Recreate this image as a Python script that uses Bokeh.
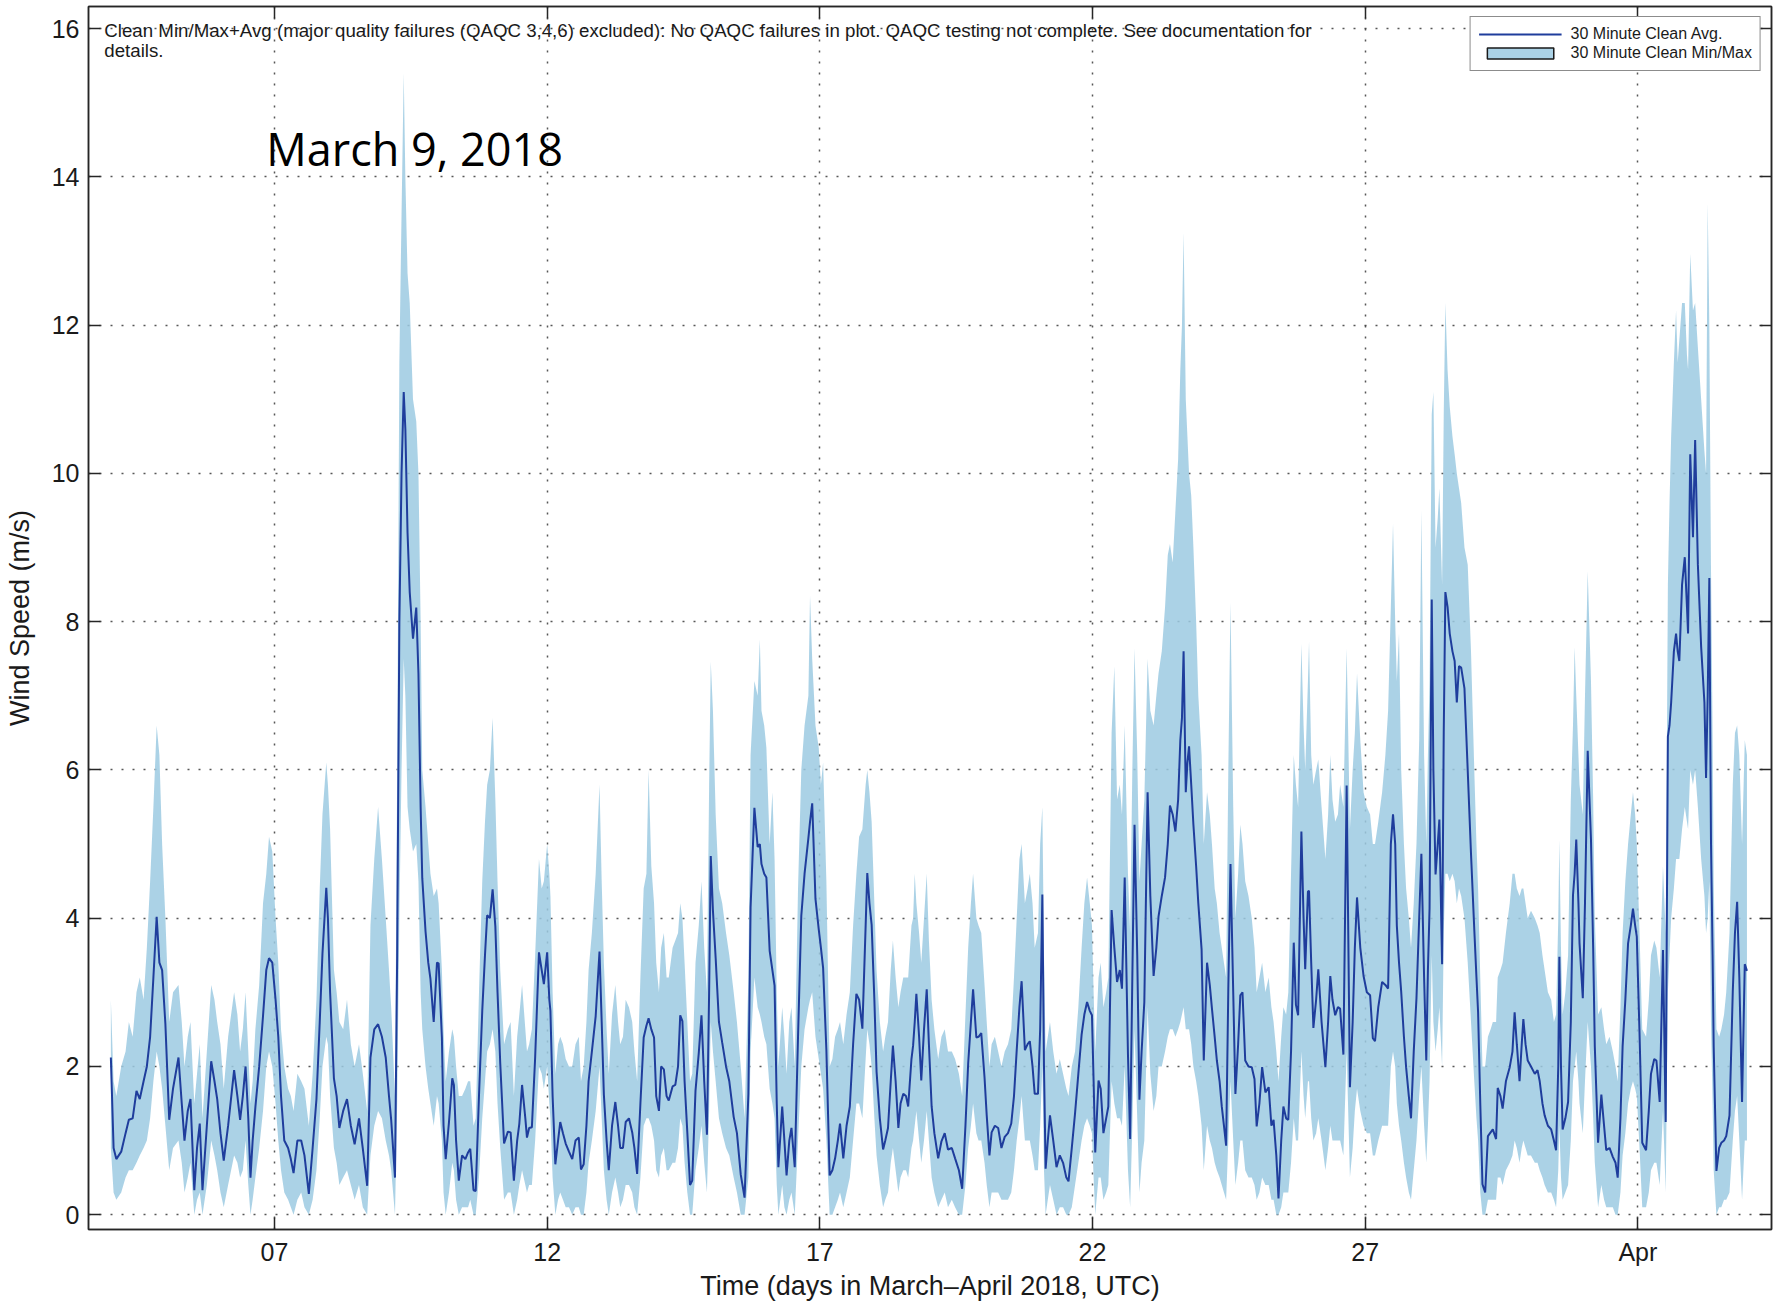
import sys
from bokeh.plotting import figure
from bokeh.models import (ColumnDataSource, Range1d, LinearAxis, FixedTicker,
                          Grid, Legend, LegendItem, Label)
from bokeh.embed import file_html
from bokeh.resources import INLINE

# ---------------- data (time in days of March 2018, UTC; Apr 1 = 32) ----------------
wind_day = [
    4.00, 4.05, 4.10, 4.19, 4.27, 4.33, 4.40, 4.47, 4.53, 4.60,
    4.66, 4.72, 4.78, 4.84, 4.89, 4.94, 5.00, 5.07, 5.14, 5.24,
    5.30, 5.35, 5.41, 5.46, 5.53, 5.58, 5.63, 5.68, 5.76, 5.84,
    5.90, 5.95, 6.01, 6.07, 6.15, 6.26, 6.32, 6.37, 6.42, 6.47,
    6.52, 6.56, 6.60, 6.65, 6.72, 6.79, 6.85, 6.90, 6.96, 7.02,
    7.07, 7.12, 7.18, 7.25, 7.30, 7.35, 7.42, 7.49, 7.55, 7.63,
    7.70, 7.77, 7.83, 7.88, 7.95, 7.98, 8.02, 8.09, 8.14, 8.19,
    8.26, 8.33, 8.40, 8.47, 8.55, 8.62, 8.70, 8.76, 8.83, 8.90,
    8.97, 9.04, 9.10, 9.14, 9.21, 9.25, 9.29, 9.33, 9.37, 9.40,
    9.44, 9.48, 9.54, 9.60, 9.64, 9.68, 9.71, 9.77, 9.82, 9.86,
    9.92, 9.98, 10.01, 10.07, 10.10, 10.14, 10.20, 10.26, 10.29, 10.33,
    10.38, 10.44, 10.50, 10.55, 10.59, 10.65, 10.69, 10.75, 10.81, 10.86,
    10.90, 10.95, 11.00, 11.05, 11.09, 11.14, 11.21, 11.28, 11.33, 11.39,
    11.45, 11.49, 11.54, 11.60, 11.63, 11.67, 11.72, 11.78, 11.85, 11.90,
    11.94, 12.00, 12.04, 12.06, 12.10, 12.15, 12.20, 12.24, 12.29, 12.34,
    12.40, 12.46, 12.52, 12.58, 12.62, 12.67, 12.72, 12.76, 12.82, 12.89,
    12.96, 13.00, 13.04, 13.09, 13.13, 13.19, 13.25, 13.30, 13.34, 13.39,
    13.44, 13.50, 13.56, 13.60, 13.65, 13.71, 13.77, 13.82, 13.86, 13.91,
    13.96, 14.00, 14.05, 14.09, 14.14, 14.19, 14.23, 14.30, 14.35, 14.40,
    14.44, 14.48, 14.52, 14.57, 14.62, 14.66, 14.72, 14.78, 14.83, 14.88,
    14.93, 14.97, 15.00, 15.04, 15.09, 15.15, 15.21, 15.28, 15.34, 15.42,
    15.48, 15.55, 15.62, 15.69, 15.73, 15.80, 15.86, 15.90, 15.93, 15.98,
    16.02, 16.08, 16.13, 16.17, 16.21, 16.24, 16.31, 16.35, 16.39, 16.44,
    16.48, 16.54, 16.60, 16.66, 16.72, 16.79, 16.82, 16.86, 16.92, 16.98,
    17.02, 17.06, 17.12, 17.18, 17.23, 17.28, 17.33, 17.37, 17.43, 17.49,
    17.55, 17.61, 17.67, 17.72, 17.78, 17.84, 17.87, 17.91, 17.95, 18.00,
    18.04, 18.10, 18.16, 18.20, 18.25, 18.30, 18.34, 18.39, 18.44, 18.48,
    18.53, 18.58, 18.62, 18.68, 18.71, 18.74, 18.77, 18.82, 18.86, 18.91,
    18.96, 19.00, 19.05, 19.10, 19.17, 19.23, 19.29, 19.35, 19.42, 19.48,
    19.55, 19.61, 19.67, 19.72, 19.77, 19.81, 19.87, 19.91, 19.96, 20.02,
    20.06, 20.11, 20.15, 20.21, 20.27, 20.33, 20.39, 20.45, 20.51, 20.56,
    20.61, 20.66, 20.70, 20.76, 20.81, 20.85, 20.90, 20.94, 21.00, 21.04,
    21.08, 21.11, 21.14, 21.18, 21.22, 21.28, 21.34, 21.40, 21.46, 21.52,
    21.56, 21.62, 21.68, 21.74, 21.80, 21.85, 21.90, 21.95, 21.99, 22.02,
    22.05, 22.11, 22.15, 22.20, 22.25, 22.29, 22.35, 22.40, 22.45, 22.50,
    22.54, 22.59, 22.65, 22.69, 22.73, 22.77, 22.82, 22.86, 22.90, 22.95,
    23.01, 23.06, 23.12, 23.17, 23.21, 23.27, 23.33, 23.38, 23.42, 23.47,
    23.52, 23.57, 23.61, 23.64, 23.67, 23.71, 23.74, 23.77, 23.81, 23.85,
    23.90, 23.94, 24.00, 24.04, 24.10, 24.15, 24.19, 24.24, 24.28, 24.33,
    24.37, 24.41, 24.45, 24.49, 24.53, 24.58, 24.62, 24.67, 24.71, 24.75,
    24.80, 24.86, 24.92, 24.97, 25.01, 25.06, 25.11, 25.17, 25.23, 25.28,
    25.32, 25.37, 25.41, 25.46, 25.50, 25.55, 25.59, 25.64, 25.69, 25.73,
    25.77, 25.83, 25.87, 25.90, 25.95, 25.97, 26.01, 26.05, 26.10, 26.14,
    26.20, 26.27, 26.32, 26.36, 26.40, 26.45, 26.50, 26.54, 26.60, 26.66,
    26.72, 26.77, 26.81, 26.85, 26.91, 26.97, 27.03, 27.09, 27.14, 27.18,
    27.24, 27.31, 27.37, 27.42, 27.47, 27.51, 27.55, 27.58, 27.62, 27.66,
    27.71, 27.75, 27.80, 27.84, 27.89, 27.94, 27.99, 28.03, 28.08, 28.12,
    28.15, 28.18, 28.22, 28.25, 28.29, 28.33, 28.36, 28.41, 28.44, 28.47,
    28.51, 28.55, 28.60, 28.64, 28.68, 28.72, 28.76, 28.82, 28.88, 28.94,
    29.00, 29.04, 29.07, 29.11, 29.15, 29.20, 29.25, 29.30, 29.34, 29.40,
    29.43, 29.48, 29.52, 29.58, 29.65, 29.70, 29.74, 29.78, 29.83, 29.87,
    29.90, 29.94, 29.98, 30.04, 30.11, 30.16, 30.20, 30.25, 30.29, 30.35,
    30.41, 30.46, 30.50, 30.54, 30.56, 30.59, 30.62, 30.67, 30.72, 30.77,
    30.81, 30.84, 30.87, 30.91, 30.93, 30.99, 31.03, 31.08, 31.14, 31.18,
    31.21, 31.27, 31.33, 31.38, 31.42, 31.48, 31.54, 31.59, 31.63, 31.68,
    31.72, 31.77, 31.82, 31.87, 31.91, 31.95, 31.98, 32.03, 32.08, 32.15,
    32.20, 32.24, 32.30, 32.34, 32.40, 32.46, 32.51, 32.55, 32.58, 32.61,
    32.66, 32.70, 32.73, 32.76, 32.81, 32.86, 32.90, 32.92, 32.96, 33.01,
    33.05, 33.10, 33.16, 33.22, 33.25, 33.28, 33.31, 33.34, 33.37, 33.39,
    33.44, 33.49, 33.53, 33.58, 33.62, 33.68, 33.74, 33.78, 33.82, 33.86,
    33.91, 33.96, 34.00,
]

# 30 minute clean average wind speed (m/s)
wind_avg = [
    2.12, 0.9, 0.75, 0.85, 1.1, 1.28, 1.3, 1.67, 1.56, 1.8,
    2.0, 2.4, 3.2, 4.02, 3.4, 3.3, 2.57, 1.28, 1.7, 2.12,
    1.5, 1.0, 1.4, 1.56, 0.33, 0.9, 1.23, 0.33, 1.2, 2.07,
    1.8, 1.56, 1.1, 0.73, 1.2, 1.95, 1.6, 1.28, 1.6, 2.0,
    1.3, 0.5, 1.0, 1.45, 2.0, 2.68, 3.3, 3.46, 3.4, 2.9,
    2.4, 1.6, 1.0, 0.9, 0.75, 0.56, 1.0, 1.0, 0.8, 0.28,
    0.9, 1.56, 2.6, 3.52, 4.41, 4.0, 3.0, 1.84, 1.6, 1.17,
    1.4, 1.56, 1.2, 0.95, 1.3, 0.89, 0.39, 2.12, 2.5, 2.57,
    2.4, 2.12, 1.6, 1.28, 0.5, 3.5, 7.98, 10.0, 11.1, 10.6,
    9.2, 8.4, 7.77, 8.19, 7.3, 5.5, 4.54, 3.82, 3.4, 3.18,
    2.6, 3.4, 3.39, 2.39, 1.2, 0.75, 1.25, 1.84, 1.75, 1.0,
    0.46, 0.8, 0.75, 0.84, 0.89, 0.33, 0.32, 1.6, 2.75, 3.5,
    4.04, 4.0, 4.39, 3.89, 3.0, 2.04, 0.96, 1.12, 1.11, 0.46,
    1.0, 1.23, 1.75, 1.3, 1.04, 1.17, 1.18, 2.12, 3.54, 3.3,
    3.11, 3.54, 2.9, 2.75, 1.6, 0.68, 1.0, 1.25, 1.1, 0.96,
    0.85, 0.75, 1.0, 1.04, 0.61, 0.68, 1.2, 1.8, 2.2, 2.68,
    3.55, 2.6, 1.62, 1.0, 0.6, 1.2, 1.52, 1.2, 0.9, 0.9,
    1.25, 1.3, 1.11, 0.9, 0.55, 1.5, 2.39, 2.55, 2.65, 2.5,
    2.39, 1.6, 1.4, 2.0, 1.96, 1.6, 1.54, 1.73, 1.75, 2.0,
    2.69, 2.61, 1.8, 1.11, 0.4, 0.46, 1.67, 2.18, 2.69, 1.8,
    1.08, 3.0, 4.84, 4.1, 3.46, 2.6, 2.32, 2.0, 1.8, 1.32,
    1.1, 0.54, 0.23, 1.63, 4.14, 5.49, 4.96, 5.0, 4.73, 4.6,
    4.55, 3.56, 3.3, 3.09, 1.5, 0.64, 1.46, 1.0, 0.53, 1.0,
    1.17, 0.64, 2.4, 4.03, 4.6, 5.08, 5.3, 5.55, 4.26, 3.85,
    3.6, 3.33, 2.22, 0.53, 0.6, 0.76, 1.0, 1.23, 0.76, 1.2,
    1.46, 2.3, 2.98, 2.9, 2.51, 3.9, 4.61, 4.2, 3.91, 2.9,
    1.93, 1.3, 0.88, 1.0, 1.17, 1.8, 2.28, 1.8, 1.17, 1.5,
    1.63, 1.6, 1.46, 2.1, 2.28, 2.6, 2.98, 2.4, 1.81, 2.5,
    3.04, 2.3, 1.46, 1.1, 0.76, 0.99, 1.1, 0.88, 0.9, 0.76,
    0.6, 0.35, 1.2, 2.04, 2.6, 3.04, 2.39, 2.4, 2.45, 1.85,
    1.34, 0.8, 1.11, 1.2, 1.17, 0.9, 1.05, 1.1, 1.23, 1.6,
    2.22, 2.8, 3.15, 2.22, 2.3, 2.34, 2.0, 1.63, 1.63, 2.5,
    4.32, 2.0, 0.62, 1.0, 1.34, 1.0, 0.64, 0.8, 0.7, 0.5,
    0.45, 0.9, 1.37, 1.9, 2.43, 2.7, 2.87, 2.75, 2.69, 1.8,
    0.84, 1.81, 1.7, 1.1, 1.3, 1.46, 4.11, 3.6, 3.14, 3.3,
    3.05, 4.55, 2.16, 1.02, 3.2, 5.26, 3.5, 1.55, 2.2, 2.87,
    5.7, 4.3, 3.22, 3.6, 4.02, 4.3, 4.55, 5.0, 5.52, 5.4,
    5.17, 5.6, 6.4, 6.7, 7.6, 5.7, 6.1, 6.32, 5.8, 5.26,
    4.7, 4.2, 3.58, 2.08, 3.4, 3.1, 2.78, 2.4, 2.08, 1.8,
    1.46, 1.2, 0.93, 3.05, 4.73, 3.0, 1.63, 2.3, 2.96, 3.0,
    2.08, 2.0, 1.99, 1.83, 1.19, 1.5, 1.99, 1.65, 1.72, 1.2,
    1.28, 0.8, 0.22, 1.0, 1.46, 1.3, 1.28, 2.2, 3.67, 2.83,
    2.69, 5.17, 4.0, 3.31, 4.36, 4.37, 3.4, 2.52, 2.9, 3.31,
    2.6, 1.99, 2.6, 3.22, 2.9, 2.69, 2.8, 2.78, 2.16, 5.79,
    1.72, 2.6, 3.6, 4.28, 3.6, 3.22, 3.0, 2.96, 2.38, 2.34,
    2.8, 3.14, 3.1, 3.05, 5.0, 5.4, 5.0, 3.9, 3.4, 3.01,
    2.4, 1.99, 1.6, 1.3, 2.2, 2.92, 4.0, 4.87, 3.2, 2.08,
    3.3, 4.13, 8.3, 6.0, 4.59, 5.0, 5.33, 3.38, 6.5, 8.4,
    8.2, 7.84, 7.6, 7.47, 6.91, 7.4, 7.38, 7.1, 5.99, 4.87,
    3.85, 3.2, 2.73, 1.5, 0.41, 0.3, 1.06, 1.11, 1.15, 1.02,
    1.71, 1.6, 1.43, 1.8, 1.99, 2.2, 2.73, 2.3, 1.8, 2.3,
    2.64, 2.3, 2.08, 2.0, 1.9, 1.95, 1.8, 1.5, 1.34, 1.2,
    1.15, 1.0, 0.87, 2.0, 3.48, 2.0, 1.15, 1.3, 1.52, 2.6,
    4.31, 4.6, 5.06, 4.2, 3.66, 2.92, 4.2, 6.26, 5.06, 3.6,
    2.27, 0.97, 1.62, 1.2, 0.87, 0.9, 0.78, 0.7, 0.5, 1.3,
    2.27, 2.9, 3.66, 3.9, 4.13, 3.9, 3.75, 2.45, 0.97, 0.87,
    1.4, 1.9, 2.1, 2.08, 1.52, 3.57, 1.25, 6.45, 6.6, 6.91,
    7.6, 7.84, 7.6, 7.47, 8.5, 8.87, 8.2, 7.84, 10.26, 9.14,
    10.45, 8.77, 7.66, 6.91, 5.89, 7.0, 8.59, 5.06, 3.5, 2.27,
    0.59, 0.9, 0.97, 1.0, 1.06, 1.34, 3.01, 3.8, 4.22, 3.2,
    1.52, 3.38, 3.29,
]

# 30 minute clean minimum (m/s)
wind_min = [
    0.9, 0.3, 0.2, 0.3, 0.5, 0.6, 0.6, 0.7, 0.8, 0.9,
    1.0, 1.3, 1.8, 2.2, 2.0, 1.7, 1.2, 0.6, 0.9, 1.0,
    0.7, 0.3, 0.5, 0.7, 0.0, 0.2, 0.3, 0.0, 0.4, 1.0,
    0.8, 0.6, 0.3, 0.1, 0.4, 0.8, 0.7, 0.5, 0.6, 1.0,
    0.4, 0.0, 0.2, 0.5, 0.9, 1.4, 2.0, 2.2, 2.0, 1.5,
    1.0, 0.6, 0.3, 0.2, 0.1, 0.0, 0.2, 0.3, 0.1, 0.0,
    0.2, 0.6, 1.3, 2.0, 2.4, 2.3, 1.6, 0.9, 0.7, 0.4,
    0.5, 0.6, 0.4, 0.2, 0.4, 0.1, 0.0, 0.8, 1.2, 1.4,
    1.3, 1.0, 0.8, 0.6, 0.0, 1.5, 4.0, 6.0, 7.5, 7.0,
    5.5, 5.2, 4.9, 5.0, 4.5, 3.0, 2.5, 2.0, 1.7, 1.5,
    1.2, 1.6, 1.5, 1.0, 0.3, 0.0, 0.3, 0.7, 0.6, 0.2,
    0.0, 0.1, 0.1, 0.1, 0.2, 0.0, 0.0, 0.5, 1.3, 1.8,
    2.2, 2.3, 2.5, 2.2, 1.5, 0.9, 0.2, 0.3, 0.3, 0.0,
    0.2, 0.4, 0.6, 0.4, 0.3, 0.4, 0.4, 1.0, 2.0, 1.9,
    1.7, 2.0, 1.5, 1.3, 0.5, 0.0, 0.2, 0.3, 0.2, 0.1,
    0.1, 0.0, 0.1, 0.1, 0.0, 0.0, 0.3, 0.7, 1.0, 1.4,
    2.0, 1.3, 0.6, 0.2, 0.0, 0.3, 0.5, 0.3, 0.1, 0.2,
    0.4, 0.4, 0.3, 0.1, 0.0, 0.5, 1.2, 1.3, 1.3, 1.2,
    1.0, 0.6, 0.5, 0.8, 0.9, 0.6, 0.6, 0.7, 0.7, 0.9,
    1.3, 1.2, 0.7, 0.3, 0.0, 0.0, 0.6, 0.9, 1.2, 0.7,
    0.3, 1.4, 2.6, 2.2, 1.8, 1.3, 1.1, 0.9, 0.8, 0.5,
    0.3, 0.0, 0.0, 0.5, 2.2, 3.2, 2.8, 2.7, 2.6, 2.4,
    2.3, 1.7, 1.5, 1.3, 0.4, 0.0, 0.4, 0.1, 0.0, 0.2,
    0.3, 0.0, 1.0, 2.0, 2.5, 2.8, 2.9, 3.0, 2.4, 2.1,
    1.9, 1.7, 1.0, 0.0, 0.0, 0.1, 0.2, 0.3, 0.1, 0.3,
    0.5, 1.0, 1.5, 1.5, 1.3, 2.1, 2.5, 2.3, 2.0, 1.3,
    0.8, 0.4, 0.1, 0.2, 0.3, 0.7, 0.9, 0.6, 0.3, 0.5,
    0.6, 0.6, 0.5, 0.9, 1.0, 1.2, 1.4, 1.0, 0.7, 1.0,
    1.4, 1.0, 0.5, 0.3, 0.1, 0.2, 0.3, 0.1, 0.2, 0.1,
    0.0, 0.0, 0.4, 0.9, 1.2, 1.5, 1.1, 1.0, 1.0, 0.7,
    0.4, 0.1, 0.3, 0.3, 0.3, 0.2, 0.2, 0.2, 0.3, 0.6,
    1.0, 1.3, 1.6, 1.0, 1.0, 1.0, 0.8, 0.6, 0.6, 1.2,
    2.0, 0.6, 0.0, 0.2, 0.4, 0.2, 0.0, 0.1, 0.1, 0.0,
    0.0, 0.1, 0.4, 0.7, 1.0, 1.2, 1.3, 1.2, 1.1, 0.5,
    0.0, 0.5, 0.5, 0.2, 0.3, 0.4, 1.8, 1.5, 1.3, 1.3,
    1.2, 2.0, 0.6, 0.1, 1.2, 2.5, 1.3, 0.3, 0.7, 1.0,
    2.8, 1.9, 1.4, 1.6, 2.0, 2.0, 2.2, 2.4, 2.5, 2.5,
    2.4, 2.5, 2.6, 2.7, 2.8, 2.5, 2.5, 2.5, 2.3, 2.0,
    1.8, 1.6, 1.2, 0.6, 1.2, 1.0, 0.9, 0.7, 0.6, 0.5,
    0.4, 0.3, 0.2, 1.0, 1.8, 1.0, 0.4, 0.7, 1.0, 1.0,
    0.6, 0.5, 0.5, 0.4, 0.2, 0.3, 0.5, 0.4, 0.4, 0.2,
    0.2, 0.0, 0.0, 0.1, 0.3, 0.3, 0.3, 0.7, 1.3, 1.0,
    1.0, 2.2, 1.6, 1.3, 1.8, 1.8, 1.3, 1.0, 1.1, 1.3,
    1.0, 0.6, 0.9, 1.2, 1.0, 1.0, 1.0, 1.0, 0.8, 2.2,
    0.5, 0.9, 1.4, 1.7, 1.4, 1.2, 1.1, 1.1, 0.8, 0.8,
    1.0, 1.2, 1.2, 1.2, 2.0, 2.2, 2.0, 1.5, 1.2, 1.0,
    0.7, 0.5, 0.3, 0.2, 0.6, 1.0, 1.6, 2.0, 1.2, 0.7,
    1.2, 1.8, 3.5, 2.6, 2.2, 2.5, 2.8, 2.0, 3.8, 4.6,
    4.6, 4.5, 4.6, 4.5, 4.2, 4.4, 4.3, 4.0, 3.4, 2.6,
    1.8, 1.3, 1.0, 0.3, 0.0, 0.0, 0.2, 0.2, 0.2, 0.2,
    0.5, 0.5, 0.4, 0.6, 0.7, 0.8, 1.0, 0.9, 0.7, 0.9,
    1.0, 0.9, 0.8, 0.8, 0.7, 0.7, 0.6, 0.5, 0.4, 0.3,
    0.3, 0.2, 0.1, 0.6, 1.2, 0.5, 0.2, 0.3, 0.4, 1.0,
    1.8, 2.0, 2.2, 1.8, 1.5, 1.1, 1.8, 2.6, 2.0, 1.3,
    0.7, 0.1, 0.4, 0.2, 0.1, 0.1, 0.1, 0.0, 0.0, 0.3,
    0.8, 1.1, 1.5, 1.7, 1.8, 1.7, 1.6, 0.9, 0.1, 0.1,
    0.3, 0.6, 0.7, 0.7, 0.4, 1.4, 0.3, 3.0, 3.5, 4.0,
    4.4, 4.8, 4.8, 4.8, 5.2, 5.5, 5.3, 5.2, 6.0, 5.8,
    6.0, 5.5, 4.8, 4.3, 3.8, 4.0, 4.5, 2.6, 1.5, 0.6,
    0.0, 0.1, 0.1, 0.2, 0.2, 0.3, 1.0, 1.4, 1.6, 1.0,
    0.2, 1.0, 1.0,
]

# 30 minute clean maximum (m/s)
wind_max = [
    2.9, 1.8, 1.6, 2.0, 2.2, 2.6, 2.4, 3.0, 3.2, 2.9,
    3.6, 4.5, 5.5, 6.6, 6.2, 5.0, 4.0, 2.6, 3.0, 3.1,
    2.6, 2.0, 2.4, 2.6, 1.5, 1.9, 2.3, 1.3, 2.2, 3.1,
    2.9, 2.6, 2.3, 1.7, 2.4, 3.0, 2.7, 2.2, 2.5, 3.0,
    2.2, 1.5, 1.8, 2.5, 3.1, 4.2, 4.6, 5.1, 4.9, 4.0,
    3.4, 2.5, 2.0, 1.7, 1.6, 1.4, 1.9, 1.8, 1.7, 1.2,
    1.9, 2.9, 4.4, 5.4, 6.1, 5.8, 5.2, 3.3, 3.0, 2.6,
    2.5, 2.9, 2.3, 2.0, 2.3, 1.9, 1.4, 3.9, 4.8, 5.5,
    4.8, 4.0, 3.3, 2.8, 1.6, 6.0, 11.5, 13.5, 15.4, 14.0,
    12.7, 12.3, 11.0, 10.7, 10.0, 8.0, 6.0, 5.5, 5.0, 4.6,
    4.3, 4.4, 4.2, 3.3, 2.5, 1.8, 2.2, 2.5, 2.4, 2.0,
    1.6, 1.6, 1.7, 1.8, 1.8, 1.2, 1.3, 3.0, 4.5, 5.3,
    5.8, 6.0, 6.7, 5.6, 4.5, 3.3, 2.3, 2.5, 2.6, 1.6,
    2.4, 2.7, 3.1, 2.5, 2.2, 2.3, 2.5, 3.5, 4.8, 4.4,
    4.5, 5.0, 4.6, 4.3, 3.0, 1.9, 2.3, 2.4, 2.3, 2.1,
    2.0, 2.0, 2.3, 2.4, 1.8, 2.0, 2.6, 3.3, 3.8, 4.6,
    5.8, 4.5, 3.4, 2.5, 1.9, 2.7, 3.1, 2.6, 2.3, 2.4,
    2.9, 2.8, 2.6, 2.2, 1.8, 3.2, 4.4, 4.6, 6.0, 4.7,
    4.2, 3.4, 3.0, 3.6, 3.8, 3.2, 3.2, 3.6, 3.7, 3.8,
    4.2, 4.0, 3.4, 2.6, 1.8, 1.9, 3.4, 3.9, 4.5, 3.6,
    3.0, 5.8, 7.46, 6.8, 5.4, 4.4, 4.2, 3.8, 3.5, 3.0,
    2.6, 2.0, 1.3, 3.2, 6.2, 7.2, 7.0, 7.76, 6.8, 6.6,
    6.3, 5.0, 5.7, 4.8, 3.0, 2.0, 2.8, 2.4, 1.9, 2.6,
    2.8, 2.0, 4.4, 6.0, 6.6, 7.0, 8.35, 7.5, 6.6, 6.3,
    5.8, 6.1, 4.5, 2.0, 2.1, 2.4, 2.5, 2.6, 2.3, 2.7,
    3.0, 3.9, 4.6, 5.1, 5.2, 5.8, 6.0, 5.7, 5.3, 4.2,
    3.3, 2.6, 2.2, 2.4, 2.6, 3.3, 3.7, 3.2, 2.8, 3.0,
    3.2, 3.2, 3.2, 3.9, 4.0, 4.6, 4.2, 3.8, 3.4, 4.0,
    4.6, 3.7, 2.9, 2.5, 2.1, 2.4, 2.5, 2.2, 2.2, 2.1,
    1.9, 1.6, 2.7, 3.6, 4.2, 4.6, 4.0, 3.9, 3.8, 3.1,
    2.6, 2.0, 2.3, 2.4, 2.2, 2.0, 2.2, 2.3, 2.5, 3.2,
    4.0, 4.8, 5.0, 4.2, 4.4, 4.6, 4.2, 3.6, 3.8, 5.0,
    5.5, 3.5, 2.2, 2.4, 2.6, 2.2, 1.9, 2.1, 1.9, 1.7,
    1.6, 2.0, 2.2, 2.8, 3.6, 4.2, 4.55, 4.2, 3.9, 3.0,
    2.2, 3.2, 3.4, 2.8, 3.0, 3.2, 6.5, 7.4, 5.6, 5.8,
    5.4, 6.6, 4.6, 3.8, 6.0, 7.64, 6.2, 4.5, 5.0, 5.6,
    7.5, 6.8, 6.6, 7.0, 7.3, 7.6, 8.2, 8.9, 9.05, 8.8,
    9.5, 10.2, 11.4, 12.0, 13.25, 11.0, 10.5, 10.0, 9.7, 9.0,
    8.0, 7.0, 6.2, 5.0, 5.7, 5.4, 5.0, 4.4, 4.2, 3.8,
    3.6, 3.4, 3.2, 6.0, 8.26, 5.5, 4.0, 4.6, 5.26, 5.0,
    4.5, 4.3, 4.0, 3.6, 3.0, 3.2, 3.4, 3.0, 3.2, 2.8,
    2.6, 2.2, 1.8, 2.4, 2.8, 2.7, 3.0, 4.6, 6.2, 5.8,
    5.5, 7.7, 6.6, 6.0, 7.2, 7.73, 6.2, 5.8, 6.0, 6.14,
    5.5, 4.8, 5.4, 6.2, 5.6, 5.3, 5.4, 5.8, 5.5, 7.64,
    5.2, 6.0, 6.5, 7.3, 6.4, 5.7, 5.5, 5.4, 5.0, 5.0,
    5.3, 5.7, 6.2, 6.8, 8.2, 9.32, 8.0, 7.2, 7.84, 6.0,
    5.0, 4.4, 4.0, 3.6, 4.2, 5.0, 6.4, 9.5, 6.2, 5.0,
    6.2, 7.2, 10.8, 11.1, 9.0, 9.4, 9.8, 8.5, 10.8, 12.3,
    11.4, 10.9, 10.5, 10.26, 10.0, 9.8, 9.6, 9.0, 8.77, 7.6,
    6.0, 5.0, 4.4, 3.2, 2.0, 2.0, 2.4, 2.5, 2.6, 2.6,
    3.2, 3.3, 3.4, 3.8, 4.2, 4.6, 4.6, 4.4, 4.3, 4.4,
    4.4, 4.2, 4.0, 4.1, 4.0, 3.9, 3.8, 3.5, 3.3, 3.0,
    2.9, 2.6, 2.7, 4.0, 5.06, 3.6, 2.7, 3.0, 3.5, 5.6,
    6.6, 7.66, 7.0, 6.2, 5.8, 5.4, 7.0, 8.68, 7.2, 5.6,
    4.0, 2.7, 2.8, 2.5, 2.3, 2.4, 2.2, 2.0, 1.8, 2.8,
    3.8, 4.5, 5.0, 5.4, 5.7, 5.4, 5.0, 3.8, 2.5, 2.4,
    2.9, 3.5, 3.7, 3.6, 3.2, 4.7, 3.8, 8.5, 9.6, 10.5,
    11.5, 12.2, 11.5, 11.8, 12.3, 12.3, 11.6, 11.4, 12.96, 12.2,
    12.3, 11.7, 11.0, 10.3, 10.0, 13.65, 12.0, 8.77, 6.5, 4.5,
    2.5, 2.4, 2.5, 2.7, 3.0, 3.8, 5.8, 6.5, 6.6, 6.2,
    5.0, 6.4, 6.2,
]

x_tick_days = [7, 12, 17, 22, 27, 32]
x_tick_labels = ["07", "12", "17", "22", "27", "Apr"]
y_tick_values = [0, 2, 4, 6, 8, 10, 12, 14, 16]

x_title = "Time (days in March\u2013April 2018, UTC)"
y_title = "Wind Speed (m/s)"
note_line1 = ("Clean Min/Max+Avg (major quality failures (QAQC 3,4,6) excluded): "
              "No QAQC failures in plot. QAQC testing not complete. See documentation for")
note_line2 = "details."
event_text = "March 9, 2018"
legend_avg = "30 Minute Clean Avg."
legend_band = "30 Minute Clean Min/Max"

# ---------------- styling ----------------
AVG_COLOR = "#1f3d9c"
BAND_COLOR = "#9ccae2"
AXIS_COLOR = "#262626"
FONT = "Liberation Sans"
X_MIN, X_MAX = 3.59, 34.45
Y_MIN, Y_MAX = -0.2, 16.3

n = min(len(wind_day), len(wind_avg), len(wind_min), len(wind_max))
if not (len(wind_day) == len(wind_avg) == len(wind_min) == len(wind_max)):
    print("length mismatch", len(wind_day), len(wind_avg), len(wind_min), len(wind_max), file=sys.stderr)

src = ColumnDataSource(data=dict(day=wind_day[:n], avg=wind_avg[:n],
                                 lo=wind_min[:n], hi=wind_max[:n]))

p = figure(width=1777, height=1303, output_backend="svg", toolbar_location=None,
           x_range=Range1d(X_MIN, X_MAX), y_range=Range1d(Y_MIN, Y_MAX),
           x_axis_type=None, y_axis_type=None,
           min_border_left=88, min_border_right=6, min_border_top=6,
           min_border_bottom=73)
p.background_fill_color = "white"
p.border_fill_color = "white"
p.outline_line_color = AXIS_COLOR
p.outline_line_width = 1.5

xt = FixedTicker(ticks=x_tick_days)
yt = FixedTicker(ticks=y_tick_values)


def style_axis(ax, show_labels):
    ax.axis_line_color = AXIS_COLOR
    ax.axis_line_width = 1.5
    ax.major_tick_line_color = AXIS_COLOR
    ax.major_tick_line_width = 1.5
    ax.major_tick_in = 12
    ax.major_tick_out = 0
    ax.minor_tick_line_color = None
    ax.major_label_text_font = FONT
    ax.axis_label_text_font = FONT
    ax.axis_label_text_font_style = "normal"
    ax.axis_label_text_color = "#1a1a1a"
    if show_labels:
        ax.major_label_text_color = "#1a1a1a"
        ax.major_label_text_font_size = "25px"
        ax.axis_label_text_font_size = "27px"
    else:
        # tick marks only (box-style axis), no labels drawn
        ax.major_label_text_color = None
        ax.major_label_text_font_size = "1px"
        ax.major_label_standoff = 0
        ax.axis_label = None


bottom = LinearAxis(ticker=xt, axis_label=x_title,
                    major_label_overrides={d: s for d, s in zip(x_tick_days, x_tick_labels)})
style_axis(bottom, True)
bottom.major_label_standoff = 8
bottom.axis_label_standoff = 2
p.add_layout(bottom, "below")

top = LinearAxis(ticker=xt)
style_axis(top, False)
p.add_layout(top, "above")

left = LinearAxis(ticker=yt, axis_label=y_title)
style_axis(left, True)
left.major_label_standoff = 9
left.axis_label_standoff = 14
p.add_layout(left, "left")

right = LinearAxis(ticker=yt)
style_axis(right, False)
p.add_layout(right, "right")

for dim, tk in ((0, xt), (1, yt)):
    g = Grid(dimension=dim, ticker=tk, grid_line_color="#3a3a3a",
             grid_line_dash="2 9", grid_line_width=1.5, grid_line_alpha=0.85)
    p.add_layout(g)

band = p.varea(x="day", y1="lo", y2="hi", source=src,
               fill_color=BAND_COLOR, fill_alpha=0.85)
avg_line = p.line(x="day", y="avg", source=src, line_color=AVG_COLOR, line_width=2.0)

# legend key for the min/max band (bordered patch like the original); NaN -> not drawn in plot
nan = float("nan")
band_key = p.quad(left=[nan], right=[nan], top=[nan], bottom=[nan],
                  fill_color=BAND_COLOR, fill_alpha=0.85,
                  line_color="#1a1a1a", line_width=1.5)

legend = Legend(items=[LegendItem(label=legend_avg, renderers=[avg_line]),
                       LegendItem(label=legend_band, renderers=[band_key])],
                location="top_right")
legend.margin = 10
legend.padding = 8
legend.spacing = 1
legend.glyph_width = 83
legend.glyph_height = 14
legend.label_height = 16
legend.label_standoff = 9
legend.label_text_font = FONT
legend.label_text_font_size = "16px"
legend.label_text_color = "#1a1a1a"
legend.border_line_color = "#1a1a1a"
legend.border_line_width = 1.5
legend.background_fill_color = "white"
legend.background_fill_alpha = 1.0
p.add_layout(legend)

p.add_layout(Label(x=3.88, y=15.97, text=note_line1, text_font=FONT,
                   text_font_size="18.7px", text_baseline="middle", text_color="#1a1a1a"))
p.add_layout(Label(x=3.88, y=15.7, text=note_line2, text_font=FONT,
                   text_font_size="18.7px", text_baseline="middle", text_color="#1a1a1a"))
p.add_layout(Label(x=6.85, y=14.39, text=event_text, text_font="Open Sans",
                   text_font_size="45px", text_baseline="alphabetic", text_color="black"))

open("out.html", "w").write(file_html(p, INLINE))
